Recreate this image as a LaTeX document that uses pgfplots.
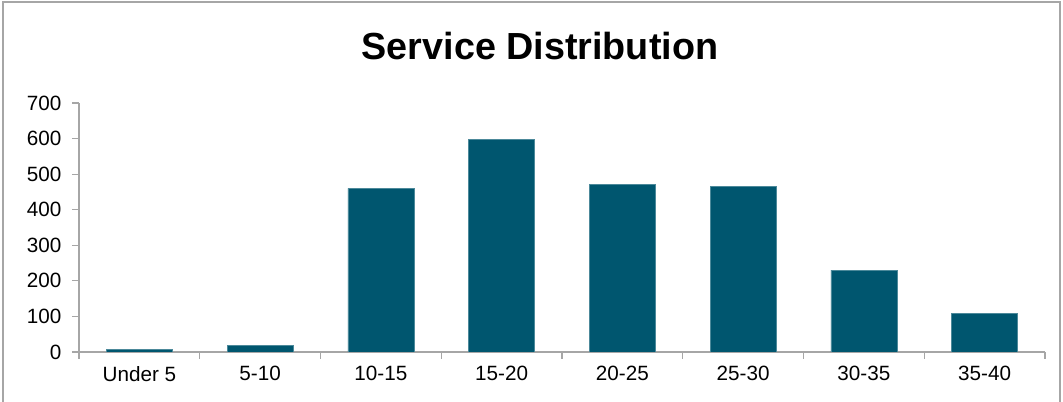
\documentclass[border=0pt]{standalone}
\usepackage{pgfplots}
\pgfplotsset{compat=1.18}
\usepackage{fontspec}
\setmainfont{Liberation Sans}
\definecolor{barc}{HTML}{00566F}
\definecolor{axc}{HTML}{A6A6A6}
\begin{document}
\begin{tikzpicture}
\useasboundingbox (0pt,0pt) rectangle (797.25pt,301.5pt);
\draw[axc, line width=1.2pt] (2.25pt,-8pt) -- (2.25pt,300pt) -- (795pt,300pt) -- (795pt,-8pt);
\node[font=\bfseries\fontsize{28.3}{34}\selectfont, anchor=base] at (405pt,256.5pt) {Service Distribution};
\begin{axis}[
  at={(59.25pt,37.5pt)}, anchor=south west,
  scale only axis, width=724.5pt, height=186.75pt,
  xmin=-0.5, xmax=7.5, ymin=0, ymax=700,
  ytick={0,100,...,700},
  xtick={0,...,7},
  xticklabels={Under 5,5-10,10-15,15-20,20-25,25-30,30-35,35-40},
  minor xtick={-0.5,0.5,...,7.5},
  major x tick style={draw=none},
  axis x line*=bottom, axis y line*=left,
  axis line style={axc, line width=0.8pt, -},
  every tick/.style={axc, line width=0.8pt},
  tick align=outside,
  major tick length=5.25pt, minor tick length=5.25pt,
  tick label style={font=\fontsize{15.5}{18}\selectfont, text=black},
  /pgf/number format/assume math mode=true,
  yticklabel style={xshift=-4.5pt},
  xticklabel style={yshift=-2pt},
  ybar, bar width=49.5pt,
]
\addplot[fill=barc, draw=barc!70!white, line width=0.5pt] coordinates {
(0,8) (1,19) (2,460) (3,598) (4,472) (5,466) (6,230) (7,109)};
\end{axis}
\end{tikzpicture}
\end{document}
